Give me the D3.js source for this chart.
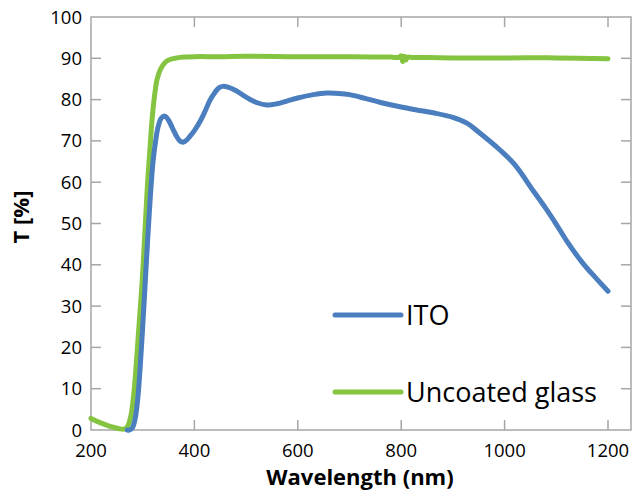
<!DOCTYPE html>
<html>
<head>
<meta charset="utf-8">
<script src="https://cdn.jsdelivr.net/npm/d3@7"></script>
<style>
  body { margin: 0; background: #fff; }
  svg text { font-family: "Open Sans", sans-serif; fill: #000; }
</style>
</head>
<body>
<div id="chart"></div>
<script>
// T [%] vs wavelength, ITO vs uncoated glass
const xTicks = [200, 400, 600, 800, 1000, 1200];
const yTicks = [0, 10, 20, 30, 40, 50, 60, 70, 80, 90, 100];

const itoWl = [270, 275, 280, 285, 290, 295, 300, 305, 310, 315, 320, 325, 330, 336, 343, 350, 358, 366, 372, 378, 385, 392, 400, 410, 420, 430, 440, 448, 455, 465, 480, 500, 520, 540, 560, 580, 600, 630, 656, 680, 700, 730, 760, 800, 830, 862, 900, 927, 952, 991, 1020, 1055, 1080, 1100, 1121, 1150, 1175, 1200];
const itoT  = [0, 0, 0.5, 2.5, 7, 15, 25, 36, 47, 57, 65, 70, 73.5, 75.5, 76, 75, 73, 71, 70, 69.7, 70.2, 71.2, 72.5, 74.5, 77, 79.8, 81.8, 82.9, 83.2, 83, 82.2, 80.6, 79.3, 78.7, 79, 79.7, 80.4, 81.2, 81.6, 81.5, 81.2, 80.3, 79.3, 78.2, 77.5, 76.8, 75.7, 74.3, 71.9, 67.8, 64.2, 58, 53.6, 49.8, 45.6, 40.6, 37, 33.6];

const glassWl = [200, 215, 230, 245, 255, 262, 268, 273, 278, 283, 287, 291, 295, 299, 303, 306, 310, 314, 318, 322, 328, 335, 345, 355, 366, 380, 400, 450, 500, 600, 700, 780, 795, 800, 803, 806, 809, 812, 820, 850, 900, 1000, 1100, 1200];
const glassT  = [2.8, 1.9, 1.2, 0.6, 0.3, 0.2, 0.4, 1.5, 4, 9, 15, 22, 29, 36, 45, 52, 61, 68, 75, 80, 85, 87.5, 89.2, 89.8, 90.1, 90.3, 90.4, 90.4, 90.5, 90.4, 90.4, 90.3, 90.2, 90.6, 89.2, 90.5, 89.6, 90.3, 90.2, 90.2, 90.1, 90.1, 90.1, 89.9];

const series = [
  { name: 'ITO', wl: itoWl, t: itoT, color: '#4a7ebf' },
  { name: 'Uncoated glass', wl: glassWl, t: glassT, color: '#84c441' }
];

const width = 633, height = 494;
const pLeft = 91, pTop = 17, pBottom = 430, pRight = 631;

const x = d3.scaleLinear().domain([200, 1200]).range([pLeft, 608]);
const y = d3.scaleLinear().domain([0, 100]).range([pBottom, pTop]);

const svg = d3.select('#chart').append('svg')
  .attr('width', width).attr('height', height);

const axisColor = '#a6a6a6';

// frame
svg.append('path')
  .attr('d', `M${pLeft},${pBottom}V${pTop}H${pRight}V${pBottom}Z`)
  .attr('fill', 'none').attr('stroke', axisColor).attr('stroke-width', 1.5);

// ticks (inside)
const tk = svg.append('g').attr('stroke', axisColor).attr('stroke-width', 1.5);
xTicks.slice(1).forEach(v => {
  tk.append('line').attr('x1', x(v)).attr('x2', x(v)).attr('y1', pBottom).attr('y2', pBottom - 10);
  tk.append('line').attr('x1', x(v)).attr('x2', x(v)).attr('y1', pTop).attr('y2', pTop + 10);
});
yTicks.slice(1, -1).forEach(v => {
  tk.append('line').attr('x1', pLeft).attr('x2', pLeft + 10).attr('y1', y(v)).attr('y2', y(v));
  tk.append('line').attr('x1', pRight).attr('x2', pRight - 10).attr('y1', y(v)).attr('y2', y(v));
});

// tick labels
svg.append('g').selectAll('text').data(xTicks).join('text')
  .attr('x', d => x(d)).attr('y', 457)
  .attr('text-anchor', 'middle')
  .style('font-size', '18.5px')
  .text(d => d);

svg.append('g').selectAll('text').data(yTicks).join('text')
  .attr('x', 82).attr('y', d => y(d) + 6.5)
  .attr('text-anchor', 'end')
  .style('font-size', '18.5px')
  .text(d => d);

// axis titles
svg.append('text')
  .attr('x', 360).attr('y', 485)
  .attr('text-anchor', 'middle')
  .style('font-size', '22px').style('font-weight', 'bold')
  .text('Wavelength (nm)');

svg.append('text')
  .attr('transform', 'translate(29,217) rotate(-90)')
  .attr('text-anchor', 'middle')
  .style('font-size', '22px').style('font-weight', 'bold')
  .text('T [%]');

// curves
const line = d3.line().curve(d3.curveCatmullRom.alpha(0.5)).x(d => x(d[0])).y(d => y(d[1]));
svg.append('g').selectAll('path').data(series.slice().reverse()).join('path')
  .attr('d', s => line(s.wl.map((w, i) => [w, s.t[i]])))
  .attr('fill', 'none')
  .attr('stroke', s => s.color)
  .attr('stroke-width', 5)
  .attr('stroke-linejoin', 'round')
  .attr('stroke-linecap', 'round');

// legend
const legend = svg.append('g');
series.forEach((s, i) => {
  const ly = i === 0 ? 315 : 392;
  legend.append('line')
    .attr('x1', 335).attr('x2', 401).attr('y1', ly).attr('y2', ly)
    .attr('stroke', s.color).attr('stroke-width', 5).attr('stroke-linecap', 'round');
  legend.append('text')
    .attr('x', 406).attr('y', ly + 10)
    .style('font-size', '27px')
    .text(s.name);
});
</script>
</body>
</html>
